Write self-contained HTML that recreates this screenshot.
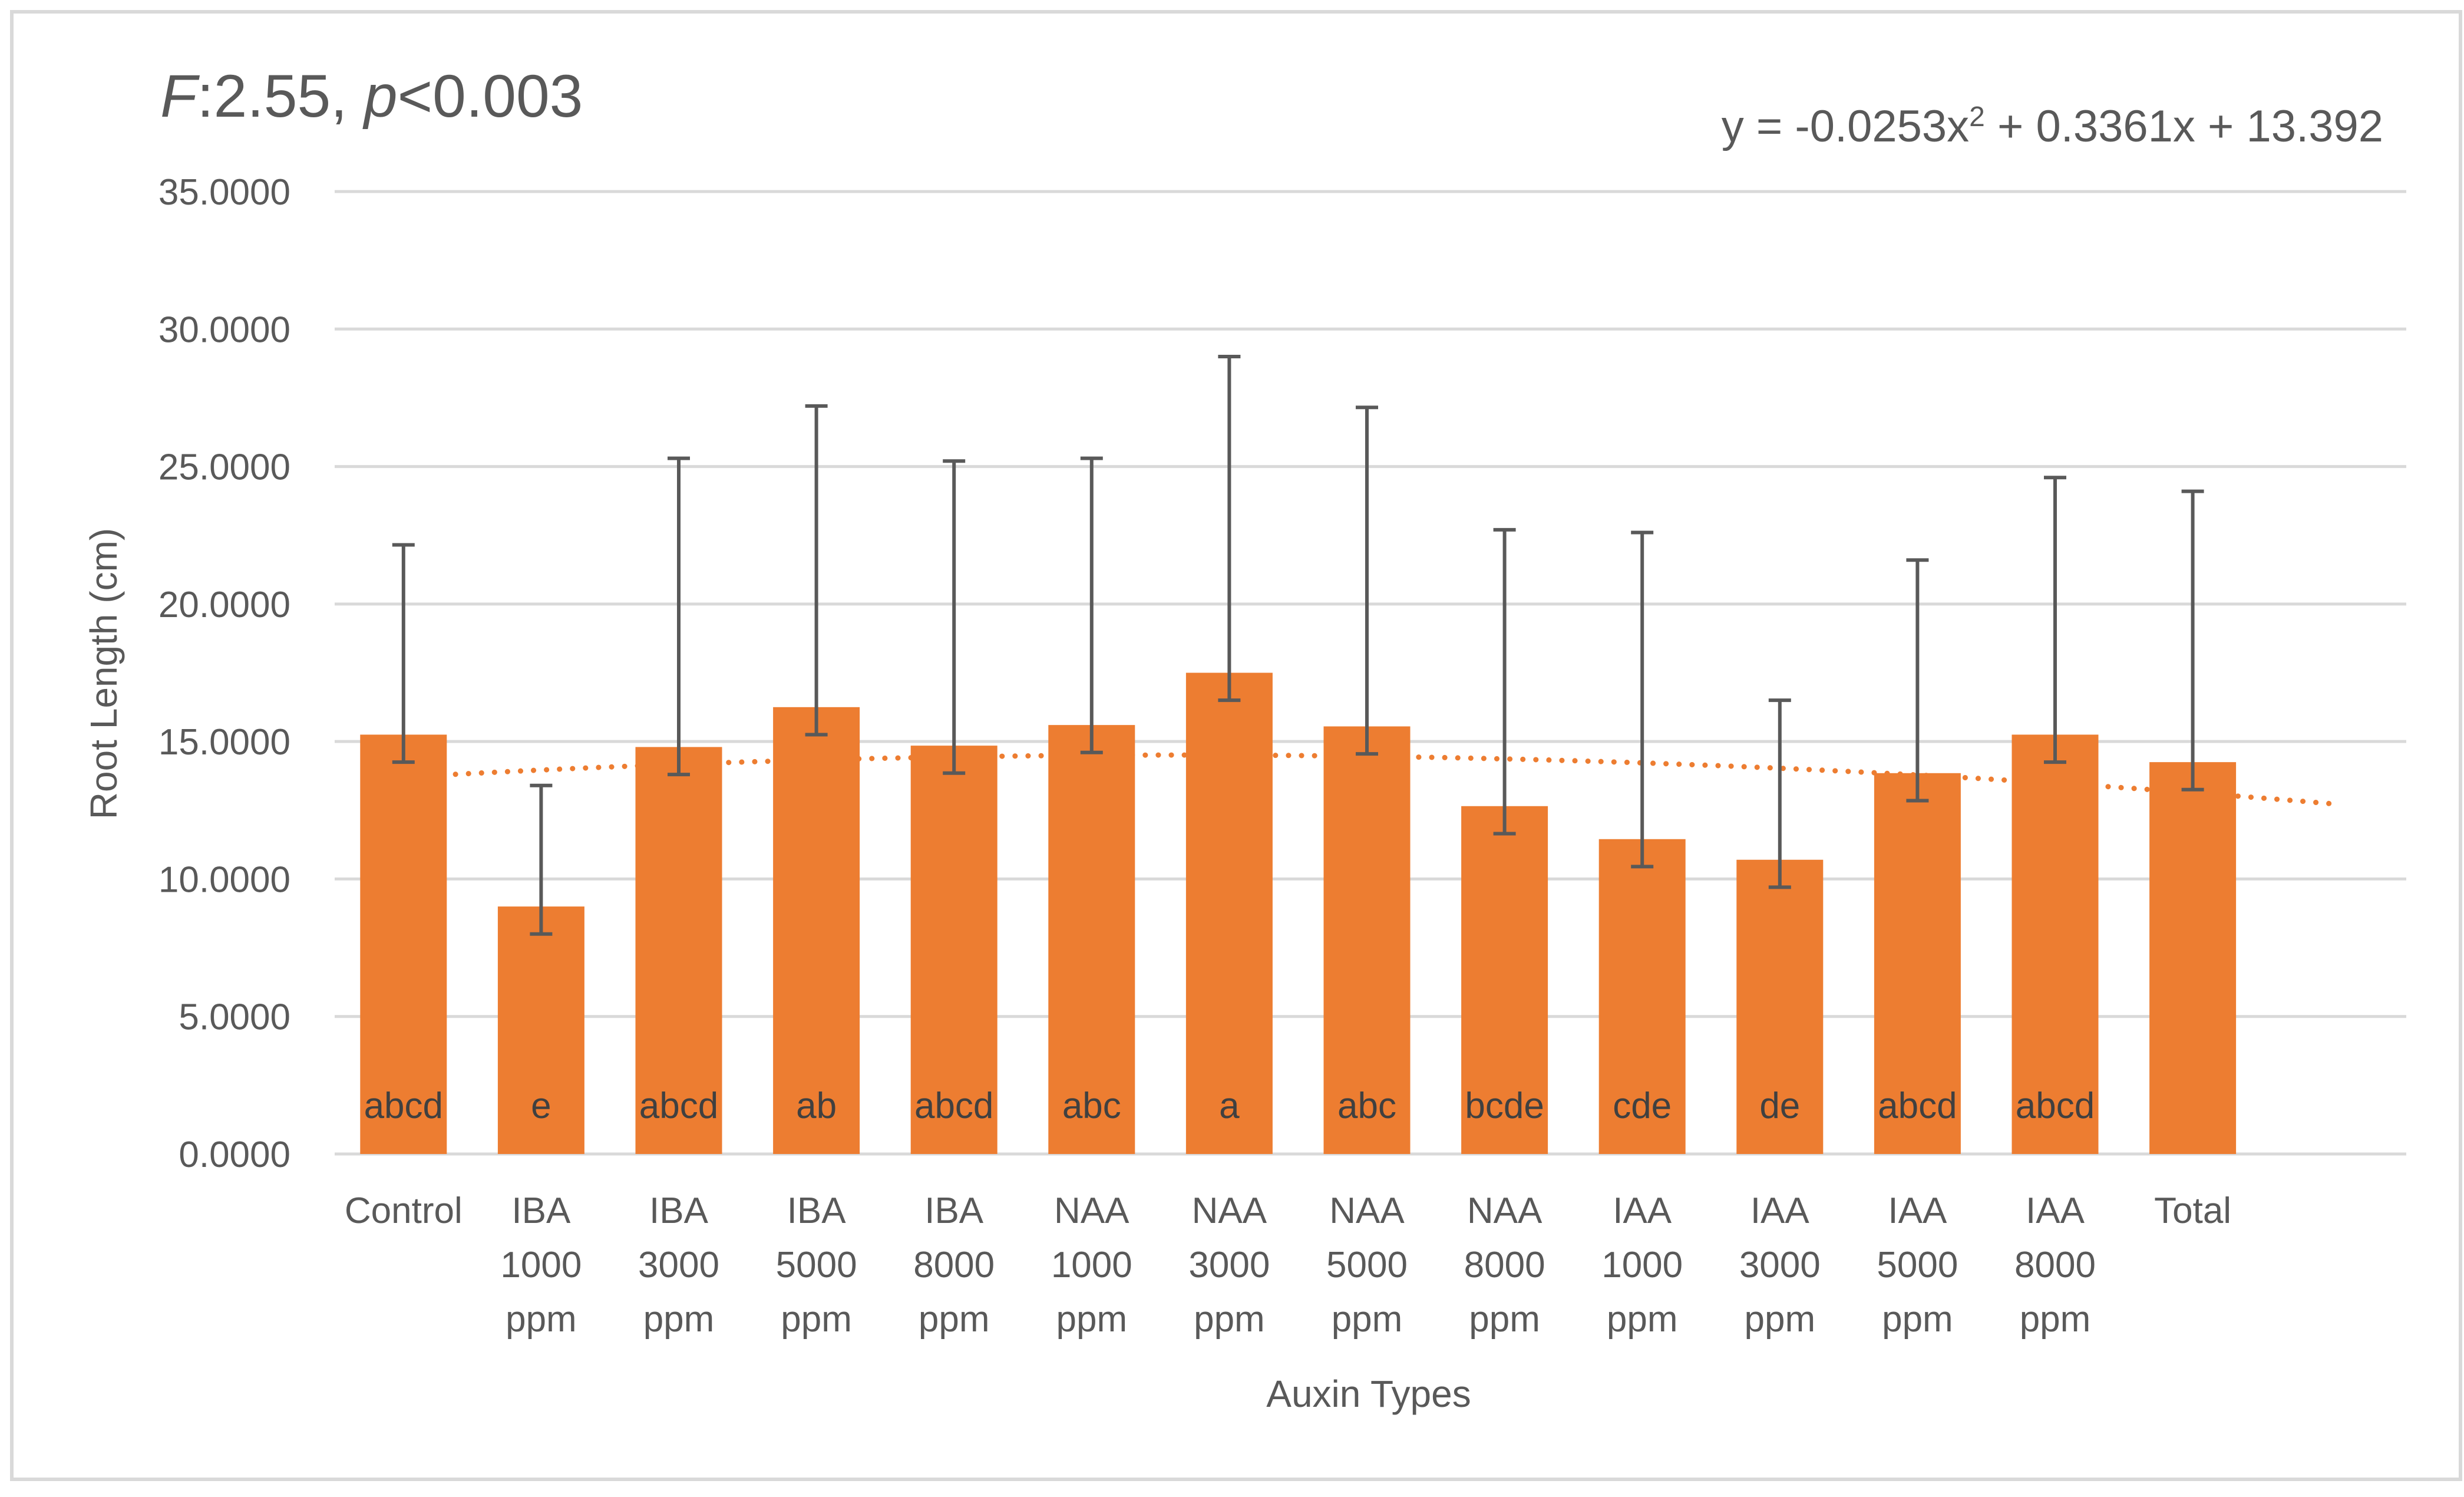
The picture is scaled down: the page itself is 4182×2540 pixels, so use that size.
<!DOCTYPE html>
<html><head><meta charset="utf-8"><style>
html,body{margin:0;padding:0;background:#fff;}
svg text{font-family:"Liberation Sans",sans-serif;fill:#595959;}
</style></head><body>
<svg id="chart" width="4182" height="2535" viewBox="0 0 4182 2535" xmlns="http://www.w3.org/2000/svg">
<rect x="20" y="20" width="4156" height="2490" fill="#fff" stroke="#d9d9d9" stroke-width="6"/>
<text x="272" y="198" font-size="102"><tspan font-style="italic">F</tspan>:2.55, <tspan font-style="italic">p</tspan>&lt;0.003</text>
<text x="4045" y="240" font-size="76" text-anchor="end">y = -0.0253x<tspan baseline-shift="super" font-size="48">2</tspan> + 0.3361x + 13.392</text>
<g id="grid"></g><g id="trend"></g><g id="bars"></g><g id="errs"></g><g id="labels"></g>
<text transform="translate(198,1143) rotate(-90)" font-size="64" text-anchor="middle">Root Length (cm)</text>
<text x="2323" y="2387" font-size="64" text-anchor="middle">Auxin Types</text>
</svg>
<script>
const categories = [["Control"],["IBA","1000","ppm"],["IBA","3000","ppm"],["IBA","5000","ppm"],["IBA","8000","ppm"],["NAA","1000","ppm"],["NAA","3000","ppm"],["NAA","5000","ppm"],["NAA","8000","ppm"],["IAA","1000","ppm"],["IAA","3000","ppm"],["IAA","5000","ppm"],["IAA","8000","ppm"],["Total"]];
const values = [15.25, 9.0, 14.8, 16.25, 14.85, 15.6, 17.5, 15.55, 12.65, 11.45, 10.7, 13.85, 15.25, 14.25];
const errTop = [22.15, 13.4, 25.3, 27.2, 25.2, 25.3, 29.0, 27.15, 22.7, 22.6, 16.5, 21.6, 24.6, 24.1];
const errBottom = [14.25, 8.0, 13.8, 15.25, 13.85, 14.6, 16.5, 14.55, 11.65, 10.45, 9.7, 12.85, 14.25, 13.25];
const groupLetters = ["abcd","e","abcd","ab","abcd","abc","a","abc","bcde","cde","de","abcd","abcd",""];
const yTicks = [0,5,10,15,20,25,30,35];
const trendCoef = [-0.0253, 0.3361, 13.392];

const NS="http://www.w3.org/2000/svg";
const left=568,right=4084,band=233.6,y0=1958,pxPerUnit=(1958-325)/35;
const xC=i=>left+band*(i+0.5);
const yS=v=>y0-v*pxPerUnit;
function mk(tag,attrs,parent){const e=document.createElementNS(NS,tag);for(const k in attrs)e.setAttribute(k,attrs[k]);document.getElementById(parent).appendChild(e);return e;}

yTicks.forEach(t=>{
  const l=mk('line',{x1:left,x2:right,y1:yS(t),y2:yS(t),stroke:'#d9d9d9','stroke-width':5},'grid');
  
  
  const tx=mk('text',{x:493,y:yS(t)+22,'font-size':62,'text-anchor':'end'},'grid');
  tx.textContent=t.toFixed(4);
  
  
});

let pts=[];
for(let k=0;k<=200;k++){const x=1+k*(values.length)/200;const v=trendCoef[0]*x*x+trendCoef[1]*x+trendCoef[2];pts.push(xC(x-1).toFixed(1)+','+yS(v).toFixed(1));}
const tl=mk('polyline',{points:pts.join(' '),fill:'none',stroke:'#ED7D31','stroke-width':9,'stroke-dasharray':'0.1 22','stroke-linecap':'round'},'trend');



values.forEach((v,i)=>{
  const w=147;
  const b=mk('rect',{x:xC(i)-w/2,y:yS(v),width:w,height:y0-yS(v),fill:'#ED7D31'},'bars');
  
  
  const ge=mk('g',{stroke:'#595959','stroke-width':6},'errs');
  
  
  const cx=xC(i);
  const e1=document.createElementNS(NS,'line');e1.setAttribute('x1',cx);e1.setAttribute('x2',cx);e1.setAttribute('y1',yS(errTop[i]));e1.setAttribute('y2',yS(errBottom[i]));ge.appendChild(e1);
  [errTop[i],errBottom[i]].forEach(ev=>{const c=document.createElementNS(NS,'line');c.setAttribute('x1',cx-19);c.setAttribute('x2',cx+19);c.setAttribute('y1',yS(ev));c.setAttribute('y2',yS(ev));ge.appendChild(c);});
  if(groupLetters[i]){
    const lt=mk('text',{x:cx,y:1897,'font-size':62,'text-anchor':'middle',style:'fill:#404040'},'labels');
    lt.textContent=groupLetters[i];
    
    
  }
  categories[i].forEach((ln,j)=>{
    const ct=mk('text',{x:cx,y:2075+j*92,'font-size':62,'text-anchor':'middle'},'labels');
    ct.textContent=ln;
    
    
  });
});
</script>
</body></html>
